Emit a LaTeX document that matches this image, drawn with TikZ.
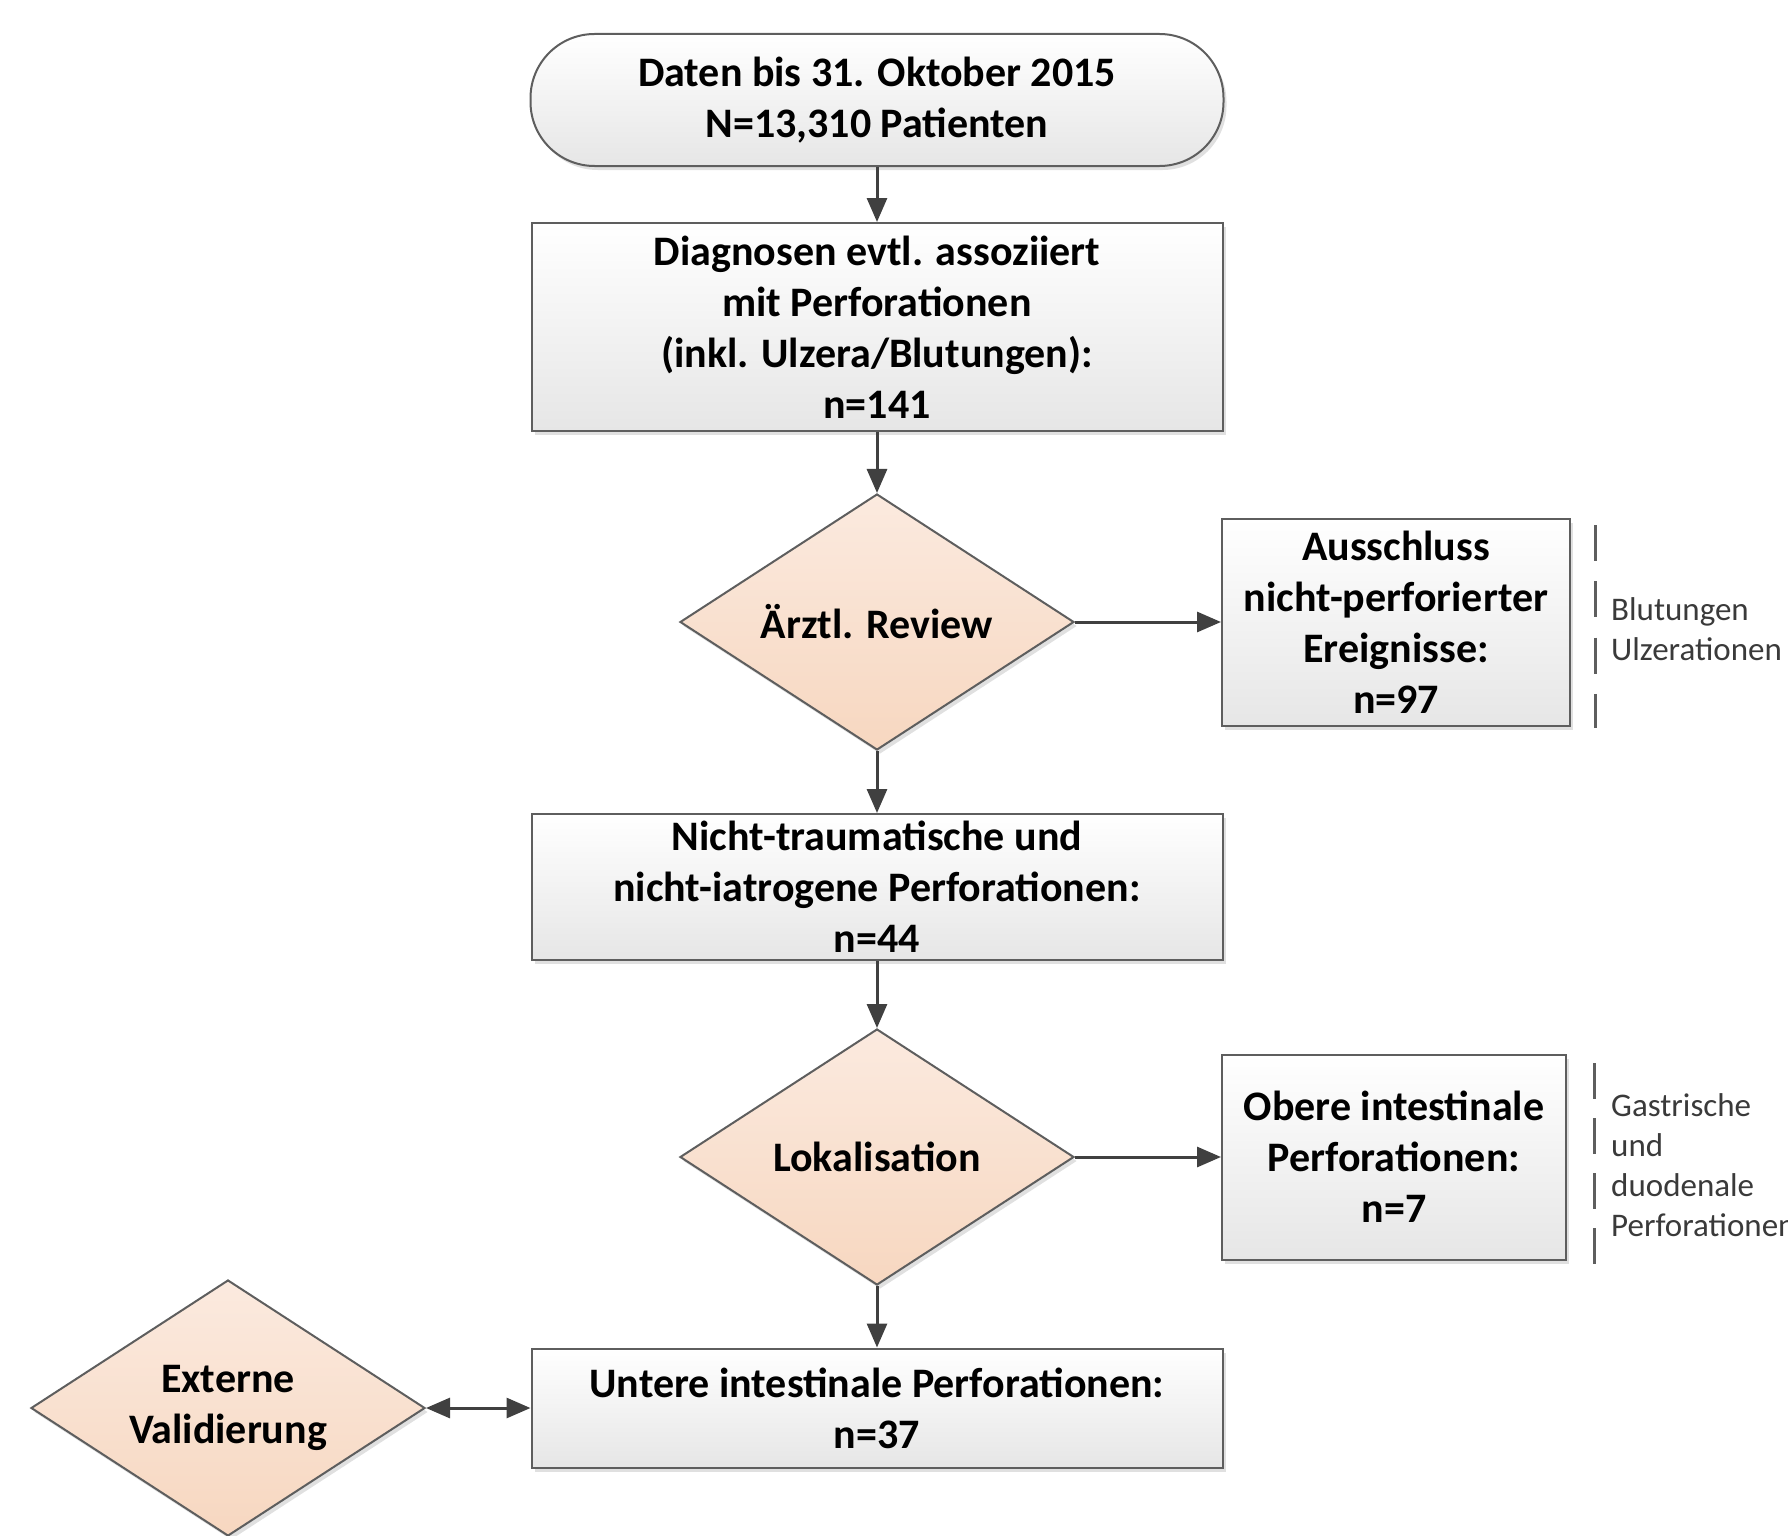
\documentclass[tikz,border=0pt]{standalone}
\usepackage{fontspec}
\setmainfont{Carlito}
\usetikzlibrary{shapes.geometric,arrows.meta,shadows}
\definecolor{edgecol}{HTML}{5E5E5E}
\definecolor{arrcol}{HTML}{404040}
\definecolor{peachtop}{HTML}{FBEADF}
\definecolor{peachbot}{HTML}{F7D7C0}
\definecolor{boxbot}{HTML}{E6E6E6}
\definecolor{notecol}{HTML}{3A3A3A}
\tikzset{
  base/.style={draw=edgecol, line width=2pt, align=center, inner sep=0pt,
    font=\fontsize{42}{51}\selectfont\bfseries,
    drop shadow={shadow xshift=3pt, shadow yshift=-4pt, fill=black, opacity=0.12}},
  flowbox/.style={base, rectangle, top color=white, bottom color=boxbot},
  term/.style={flowbox, rounded corners=64pt},
  decide/.style={base, diamond, aspect=1.54, minimum width=394pt, minimum height=256pt,
    top color=peachtop, bottom color=peachbot},
  arr/.style={draw=arrcol, line width=3pt, -{Triangle[length=24pt,width=20pt]}},
  arrboth/.style={draw=arrcol, line width=3pt, {Triangle[length=24pt,width=20pt]}-{Triangle[length=24pt,width=20pt]}},
  bracket/.style={draw=edgecol, line width=3pt},
  note/.style={anchor=west, align=left, inner sep=0pt, text=notecol,
    font=\fontsize{33}{40}\selectfont},
}
\begin{document}
\begin{tikzpicture}[x=1pt,y=-1pt]
\useasboundingbox (0,0) rectangle (1788,1536);

\node[term, minimum width=693pt, minimum height=132pt] (start) at (877,100)
  {Daten bis 31. Oktober 2015\\N=13,310 Patienten};
\node[flowbox, minimum width=691pt, minimum height=208pt] (diag) at (877,327)
  {Diagnosen evtl. assoziiert\\mit Perforationen\\(inkl. Ulzera/Blutungen):\\n=141};
\node[decide] (rev) at (877,622) {Ärztl. Review};
\node[flowbox, minimum width=348pt, minimum height=207pt] (aus) at (1396,622)
  {Ausschluss\\nicht-perforierter\\Ereignisse:\\n=97};
\node[flowbox, minimum width=691pt, minimum height=146pt] (nt) at (877,887)
  {Nicht-traumatische und\\nicht-iatrogene Perforationen:\\n=44};
\node[decide] (lok) at (877,1157) {Lokalisation};
\node[flowbox, minimum width=344pt, minimum height=205pt] (obe) at (1394,1157)
  {Obere intestinale\\Perforationen:\\n=7};
\node[flowbox, minimum width=691pt, minimum height=119pt] (unt) at (877,1408)
  {Untere intestinale Perforationen:\\n=37};
\node[decide] (ext) at (228,1408) {Externe\\Validierung};

\draw[arr] (start) -- (diag);
\draw[arr] (diag) -- (rev);
\draw[arr] (rev) -- (aus);
\draw[arr] (rev) -- (nt);
\draw[arr] (nt) -- (lok);
\draw[arr] (lok) -- (obe);
\draw[arr] (lok) -- (unt);
\draw[arrboth] (ext.east) -- (unt.west);

\coordinate (b1t) at (1595,525);
\coordinate (b1b) at (1595,728);
\draw[bracket, dash pattern=on 36pt off 20.3pt] (b1t) -- (b1b);
\node[note] (n1) at (1611,629) {Blutungen\\Ulzerationen};

\coordinate (b2t) at (1594,1063);
\coordinate (b2b) at (1594,1264);
\draw[bracket, dash pattern=on 36pt off 19pt] (b2t) -- (b2b);
\node[note] (n2) at (1611,1165) {Gastrische\\und\\duodenale\\Perforationen};
\end{tikzpicture}
\end{document}
